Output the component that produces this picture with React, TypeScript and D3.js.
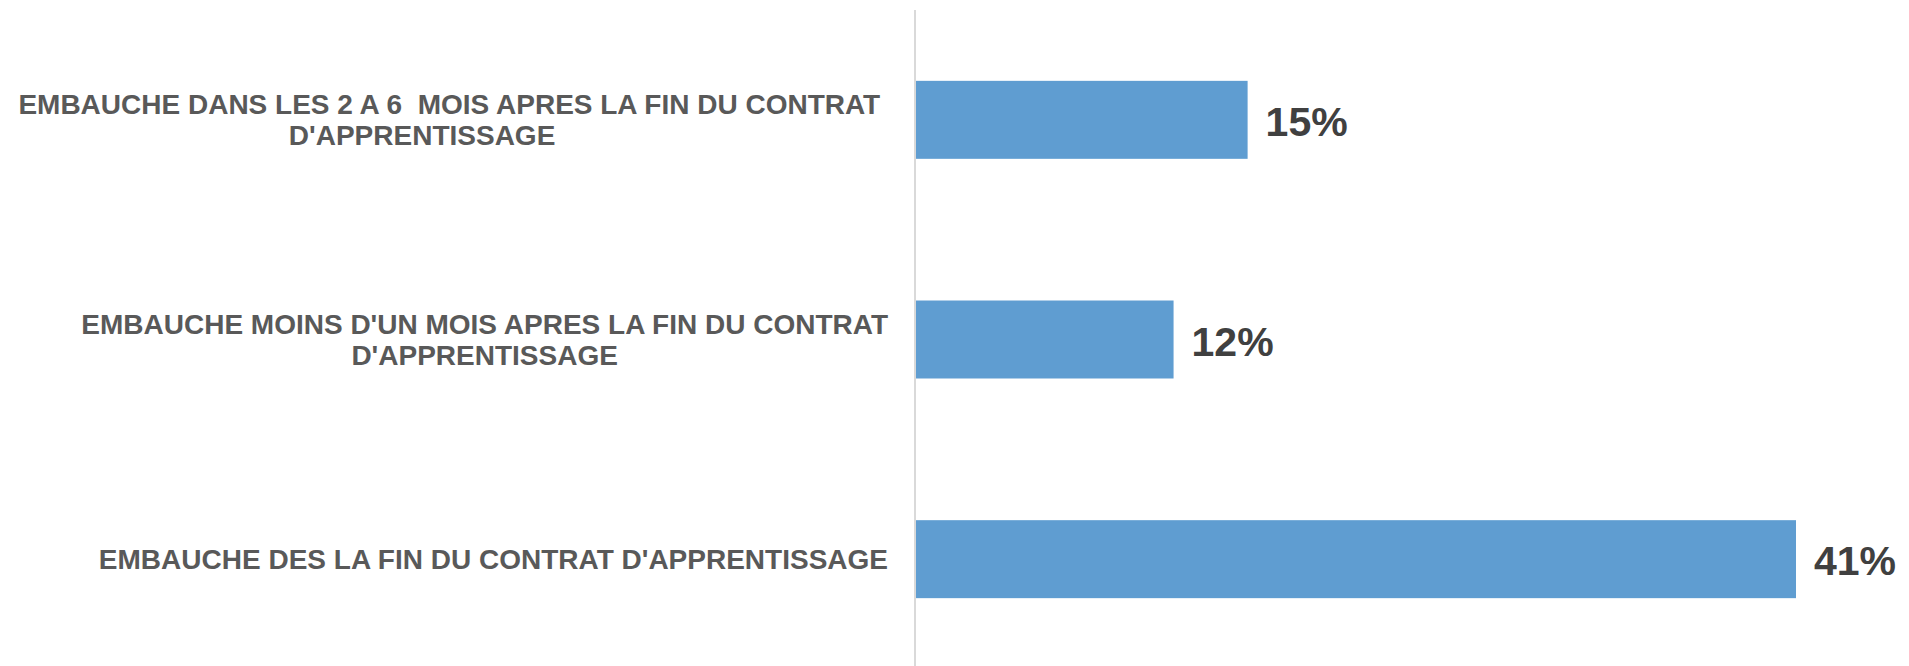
import React, { useEffect, useRef } from "react";
import * as d3 from "d3";

const categories: string[][] = [
  ["EMBAUCHE DANS LES 2 A 6  MOIS APRES LA FIN DU CONTRAT ", "D'APPRENTISSAGE        "],
  ["EMBAUCHE MOINS D'UN MOIS APRES LA FIN DU CONTRAT", "D'APPRENTISSAGE"],
  ["EMBAUCHE DES LA FIN DU CONTRAT D'APPRENTISSAGE"],
];
const values: number[] = [15.45, 12, 41];

const W = 1909;
const H = 666;
const AXIS_X = 916;
const BAR_COLOR = "#5f9dd1";

export default function App() {
  const ref = useRef<SVGSVGElement | null>(null);

  useEffect(() => {
    const svg = d3.select(ref.current);
    svg.selectAll("*").remove();

    const keys = categories.map((_, i) => String(i));
    const y = d3.scaleBand<string>().domain(keys).range([10, 669]).paddingInner(0.645).paddingOuter(0.3225);
    const x = d3.scaleLinear().domain([0, 41]).range([AXIS_X, 1796]);

    // bars
    svg
      .append("g")
      .selectAll("rect")
      .data(values)
      .join("rect")
      .attr("x", x(0))
      .attr("y", (_, i) => y(keys[i])!)
      .attr("width", (d) => x(d) - x(0))
      .attr("height", y.bandwidth())
      .attr("fill", BAR_COLOR);

    // axis line
    svg
      .append("line")
      .attr("x1", AXIS_X - 1)
      .attr("x2", AXIS_X - 1)
      .attr("y1", 10)
      .attr("y2", H)
      .attr("stroke", "#d9d9d9")
      .attr("stroke-width", 2);

    // value labels
    const fmt = d3.format(".0f");
    svg
      .append("g")
      .selectAll("text")
      .data(values)
      .join("text")
      .attr("x", (d) => x(d) + 18)
      .attr("y", (_, i) => y(keys[i])! + y.bandwidth() / 2 + 16)
      .attr("font-family", "'Liberation Sans', Arial, sans-serif")
      .attr("font-weight", "bold")
      .attr("font-size", 41)
      .attr("fill", "#404040")
      .text((d) => fmt(d) + "%");

    // category labels
    const lineH = 31;
    const rightEdge = AXIS_X - 28;
    categories.forEach((lines, i) => {
      const cy = y(keys[i])! + y.bandwidth() / 2;
      const g = svg.append("g");
      const texts = g
        .selectAll("text")
        .data(lines)
        .join("text")
        .attr("x", 0)
        .attr("y", (_, j) => cy + 9.5 + (j - (lines.length - 1) / 2) * lineH)
        .attr("text-anchor", "middle")
        .attr("font-family", "'Liberation Sans', Arial, sans-serif")
        .attr("font-weight", "bold")
        .attr("font-size", 28)
        .attr("fill", "#595959")
        .style("white-space", "pre")
        .text((d) => d);
      let maxW = 0;
      texts.each(function () {
        const w = (this as SVGTextElement).getComputedTextLength();
        if (w > maxW) maxW = w;
      });
      g.attr("transform", `translate(${rightEdge - maxW / 2},0)`);
    });
  }, []);

  return (
    <svg
      ref={ref}
      width={W}
      height={H}
      style={{ position: "absolute", left: 0, top: 0, background: "#fff", display: "block" }}
    />
  );
}
